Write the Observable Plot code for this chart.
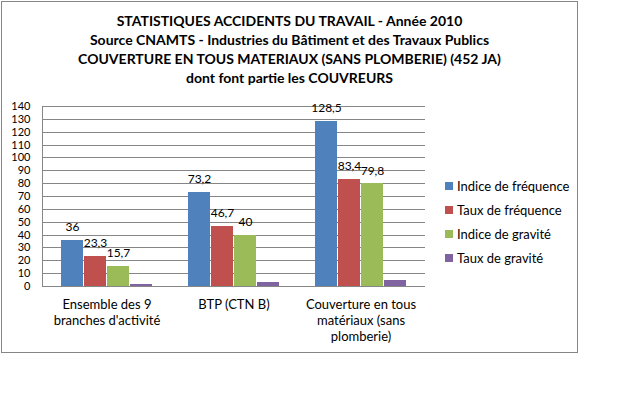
<!DOCTYPE html>
<html><head><meta charset="utf-8">
<script src="https://cdn.jsdelivr.net/npm/d3@7"></script>
<script src="https://cdn.jsdelivr.net/npm/@observablehq/plot@0.6"></script>
<style>
body{margin:0;background:#fff;font-family:Lato,"Open Sans",sans-serif;color:#000;}
#wrap{position:relative;width:637px;height:393px;overflow:hidden;background:#fff;}
#frame{position:absolute;left:1px;top:1px;width:577px;height:352px;border:1px solid #868686;box-sizing:border-box;}
#title{position:absolute;left:1px;width:577px;top:11px;text-align:center;font-weight:bold;font-size:14px;line-height:19px;white-space:nowrap;}
#legend{position:absolute;left:445px;top:174px;font-size:13px;}
.item{display:flex;align-items:center;height:24px;white-space:nowrap;}
.sw{width:8px;height:8px;margin-right:4px;flex:none;}
#chart{position:absolute;left:0;top:0;}
</style></head>
<body>
<div id="wrap">
  <div id="frame"></div>
  <div id="chart"></div>
  <div id="title"></div>
  <div id="legend"></div>
</div>
<script>
const titleLines = [
  "STATISTIQUES ACCIDENTS DU TRAVAIL - Année 2010",
  "Source CNAMTS - Industries du Bâtiment et des Travaux Publics",
  "COUVERTURE EN TOUS MATERIAUX (SANS PLOMBERIE) (452 JA)",
  "dont font partie les COUVREURS"
];
const categories = ["Ensemble des 9 branches d'activité", "BTP (CTN B)", "Couverture en tous matériaux (sans plomberie)"];
const tickLabels = ["Ensemble des 9\nbranches d'activité", "BTP (CTN B)", "Couverture en tous\nmatériaux (sans\nplomberie)"];
const series = ["Indice de fréquence", "Taux de fréquence", "Indice de gravité", "Taux de gravité"];
const colors = ["#4F81BD", "#C0504D", "#9BBB59", "#8064A2"];
const indiceFrequence = [36, 73.2, 128.5];
const tauxFrequence = [23.3, 46.7, 83.4];
const indiceGravite = [15.7, 40, 79.8];
const tauxGravite = [1.6, 3.0, 4.8];
const showLabels = [true, true, true, false];
const yTicks = [0, 10, 20, 30, 40, 50, 60, 70, 80, 90, 100, 110, 120, 130, 140];

const values = [indiceFrequence, tauxFrequence, indiceGravite, tauxGravite];
const data = [];
series.forEach((s, i) => categories.forEach((c, j) => data.push({cat: c, series: s, si: i, value: values[i][j]})));

document.getElementById("title").innerHTML = titleLines.map(t => `<div>${t}</div>`).join("");
document.getElementById("legend").innerHTML = series.map((s, i) =>
  `<div class="item"><span class="sw" style="background:${colors[i]}"></span>${s}</div>`).join("");

const W = 637, H = 393, mL = 42, mR = 212, mT = 106, mB = 107;
const band = (W - mL - mR) / categories.length;
const bw = 23;
const gap = (band - series.length * bw) / 2;
const fmt = v => String(v).replace(".", ",");
const grid = "#868686";

const marks = [
  Plot.gridY(yTicks, {stroke: grid, strokeOpacity: 1, shapeRendering: "crispEdges"}),
  Plot.frame({anchor: "left", stroke: grid, shapeRendering: "crispEdges"})
];
series.forEach((s, i) => {
  const d = data.filter(r => r.si === i);
  marks.push(Plot.barY(d, {
    x: "cat", y: "value", fill: colors[i],
    insetLeft: gap + i * bw, insetRight: band - gap - (i + 1) * bw,
    shapeRendering: "crispEdges"
  }));
  if (showLabels[i]) marks.push(Plot.text(d, {
    x: "cat", y: "value", text: r => fmt(r.value),
    dx: gap + (i + 0.5) * bw - band / 2, dy: -13, fontSize: 12, fill: "#000"
  }));
});
marks.push(Plot.axisY(yTicks, {tickSize: 0, tickPadding: 12, fontSize: 11, fill: "#000", label: null, tickFormat: d => d}));
marks.push(Plot.axisX({tickSize: 0, tickPadding: 11, fontSize: 13, fill: "#000", label: null, lineHeight: 1.23,
  tickFormat: d => tickLabels[categories.indexOf(d)]}));

const chart = Plot.plot({
  width: W, height: H,
  marginLeft: mL, marginRight: mR, marginTop: mT, marginBottom: mB,
  style: {fontFamily: "Lato, 'Open Sans', sans-serif", fontSize: "13px", background: "transparent", color: "#000"},
  x: {domain: categories, padding: 0},
  y: {domain: [0, 140]},
  marks
});
document.getElementById("chart").appendChild(chart);
</script>
</body></html>
